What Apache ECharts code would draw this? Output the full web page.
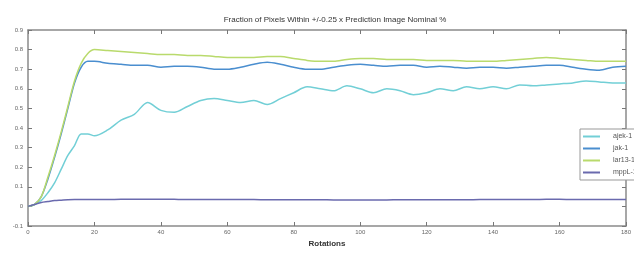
<!DOCTYPE html>
<html><head><meta charset="utf-8">
<script src="https://cdn.jsdelivr.net/npm/echarts@6/dist/echarts.min.js"></script>
<style>html,body{margin:0;padding:0;background:#fff}#c{width:634px;height:253px}</style>
</head><body><div id="c"></div>
<script>
const titleText = "Fraction of Pixels Within +/-0.25 x Prediction Image Nominal %";
const xAxisName = "Rotations";
const seriesNames = ["ajek-1", "jak-1", "lar13-1", "mppL-1"];
const xs = [0,2,4,6,8,10,12,14,16,18,20,24,28,32,36,40,44,48,52,56,60,64,68,72,76,80,84,88,92,96,100,104,108,112,116,120,124,128,132,136,140,144,148,152,156,160,164,168,172,176,180];
const ajek = [0,0.01,0.03,0.07,0.12,0.19,0.26,0.31,0.37,0.37,0.36,0.39,0.44,0.47,0.53,0.49,0.48,0.51,0.54,0.55,0.54,0.53,0.54,0.52,0.55,0.58,0.61,0.6,0.59,0.615,0.6,0.58,0.6,0.59,0.57,0.58,0.6,0.59,0.61,0.6,0.61,0.6,0.62,0.615,0.62,0.625,0.63,0.64,0.635,0.63,0.63];
const jak = [0,0.01,0.05,0.14,0.25,0.37,0.5,0.63,0.71,0.74,0.74,0.73,0.725,0.72,0.72,0.71,0.715,0.715,0.71,0.70,0.70,0.71,0.725,0.735,0.725,0.71,0.70,0.70,0.71,0.72,0.725,0.72,0.715,0.72,0.72,0.71,0.715,0.71,0.705,0.71,0.71,0.705,0.71,0.715,0.72,0.72,0.71,0.70,0.695,0.71,0.715];
const lar13 = [0,0.01,0.05,0.15,0.26,0.38,0.51,0.64,0.73,0.78,0.80,0.795,0.79,0.785,0.78,0.775,0.775,0.77,0.77,0.765,0.76,0.76,0.76,0.765,0.765,0.755,0.745,0.74,0.74,0.75,0.755,0.755,0.75,0.75,0.75,0.745,0.745,0.745,0.74,0.74,0.74,0.745,0.75,0.755,0.76,0.755,0.75,0.745,0.74,0.74,0.74];
const mppL = [0,0.01,0.02,0.025,0.03,0.032,0.034,0.035,0.035,0.035,0.035,0.035,0.036,0.036,0.036,0.037,0.036,0.035,0.035,0.035,0.035,0.035,0.035,0.034,0.034,0.034,0.034,0.034,0.033,0.033,0.033,0.033,0.033,0.034,0.034,0.034,0.034,0.034,0.034,0.035,0.035,0.035,0.035,0.035,0.036,0.036,0.035,0.035,0.035,0.035,0.035];
const colors = ["#72cfd6", "#4a8ecf", "#b9da6c", "#6a6aae"];

const values = [ajek, jak, lar13, mppL];
const chart = echarts.init(document.getElementById('c'), null, {renderer: 'canvas'});
const tickFmt = v => { const r = Math.round(v * 10) / 10; return r === 0 ? "0" : r.toFixed(1); };
const axisCommon = {
  axisLine: {show: true, onZero: false, lineStyle: {color: '#8a8a8a', width: 1.5}},
  axisTick: {show: true, inside: true, length: 4, lineStyle: {color: '#777'}},
  splitLine: {show: false}
};
chart.setOption({
  backgroundColor: '#fff',
  animation: false,
  title: {text: titleText, left: 330, top: 11, textAlign: 'center',
    textStyle: {fontFamily: 'Liberation Sans', fontSize: 8, fontWeight: 'normal', color: '#333'}},
  legend: {
    orient: 'vertical', left: 580, top: 129, itemWidth: 17, itemHeight: 2, itemGap: 5,
    padding: [4, 30, 4, 3], borderColor: '#999', borderWidth: 1, backgroundColor: '#fff',
    icon: 'rect', textStyle: {fontFamily: 'Liberation Sans', fontSize: 7, color: '#555', padding: [0, 0, 0, 8]},
    data: seriesNames
  },
  grid: {left: 28, right: 2, top: 30, bottom: 23, containLabel: false},
  xAxis: [
    Object.assign({type: 'value', min: 0, max: 180, interval: 20, position: 'bottom',
      name: xAxisName, nameLocation: 'middle', nameGap: 14,
      nameTextStyle: {fontFamily: 'Liberation Sans', fontSize: 8, fontWeight: 'bold', color: '#333'},
      axisLabel: {fontFamily: 'Liberation Sans', fontSize: 6, color: '#666', margin: 3}}, axisCommon),
    Object.assign({type: 'value', min: 0, max: 180, interval: 20, position: 'top',
      axisLabel: {show: false}}, axisCommon)
  ],
  yAxis: [
    Object.assign({type: 'value', min: -0.1, max: 0.9, interval: 0.1, position: 'left',
      axisLabel: {fontFamily: 'Liberation Sans', fontSize: 6, color: '#666', margin: 5, formatter: tickFmt}}, axisCommon),
    Object.assign({type: 'value', min: -0.1, max: 0.9, interval: 0.1, position: 'right',
      axisLabel: {show: false}}, axisCommon)
  ],
  series: seriesNames.map((n, i) => ({
    name: n, type: 'line', xAxisIndex: 0, yAxisIndex: 0,
    data: xs.map((x, j) => [x, values[i][j]]),
    showSymbol: false, smooth: 0.3,
    lineStyle: {color: colors[i], width: 1.5},
    itemStyle: {color: colors[i]},
    z: 2 + i
  }))
});
</script></body></html>
